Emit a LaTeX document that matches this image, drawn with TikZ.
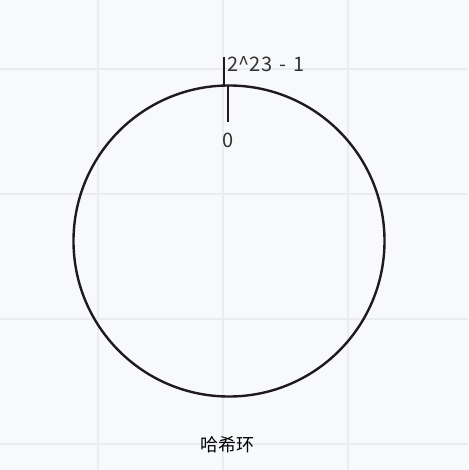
\documentclass[tikz,border=0pt]{standalone}
\usepackage{fontspec}
\setmainfont{Noto Sans CJK SC}
\usepackage{tikz}
\usetikzlibrary{positioning,calc}

\definecolor{bgpaper}{RGB}{248,249,251}
\definecolor{gridgray}{RGB}{234,236,240}
\definecolor{inkdark}{RGB}{32,26,30}
\definecolor{txtgray}{RGB}{51,51,51}

\begin{document}
\begin{tikzpicture}[
  x=1pt,y=-1pt,
  ring/.style={circle,draw=inkdark,line width=2.4pt,minimum size=311pt,inner sep=0pt},
  tick/.style={draw=inkdark,line width=2.4pt},
  lbl/.style={inner sep=0pt,text=txtgray,font=\fontsize{20}{24}\selectfont},
  title/.style={inner sep=0pt,text=black,font=\fontsize{18}{22}\selectfont}
]
  % background and grid
  \fill[bgpaper] (0,0) rectangle (468,470);
  \useasboundingbox (0,0) rectangle (468,470);
  \foreach \gx in {98,223,348}
    \draw[gridgray,line width=1.2pt] (\gx,0) -- (\gx,470);
  \foreach \gy in {69,194,319,444}
    \draw[gridgray,line width=1.2pt] (0,\gy) -- (468,\gy);

  % hash ring
  \node[ring] (ring) at (229,241) {};

  % end / start marks
  \coordinate (endtop) at (223.7,57);
  \coordinate (endbot) at (223.7,86);
  \coordinate (starttop) at (228,86);
  \coordinate (startbot) at (228,122);
  \draw[tick] (endtop) -- (endbot);
  \draw[tick] (starttop) -- (startbot);

  \node[lbl,anchor=base west] (maxval) at (227.5,72) {2\^{}23\hspace{7pt}-\hspace{7pt}1};
  \node[lbl,anchor=base] (zero) at (228,148) {0};
  \node[title] (caption) at (227,445) {哈希环};
\end{tikzpicture}
\end{document}
